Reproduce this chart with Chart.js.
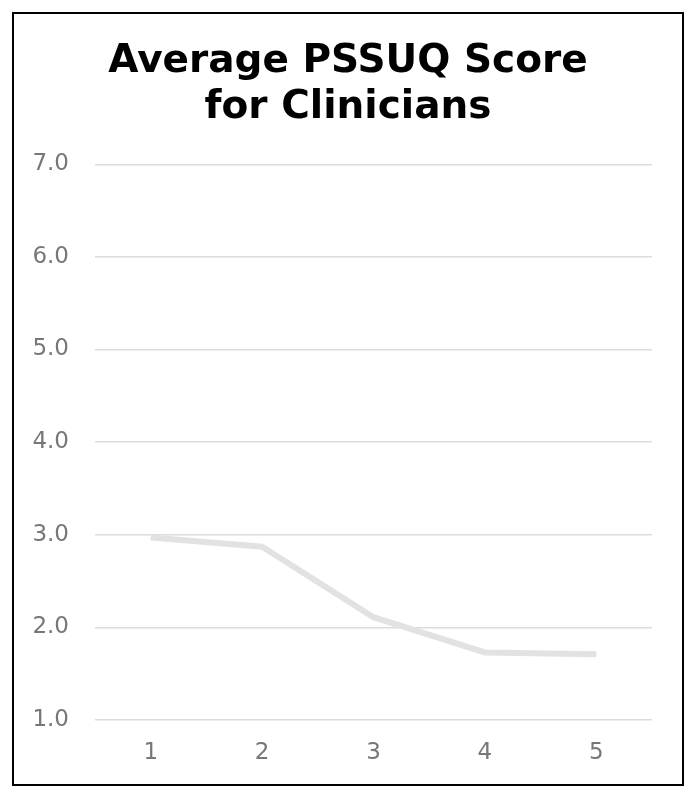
<!DOCTYPE html>
<html>
<head>
<meta charset="utf-8">
<script src="https://cdn.jsdelivr.net/npm/chart.js@4/dist/chart.umd.min.js"></script>
<style>
  html, body { margin: 0; padding: 0; background: #fff; }
  #frame { position: absolute; left: 12px; top: 12px; width: 668px; height: 770px; border: 2px solid #000; }
  #c { display: block; }
</style>
</head>
<body>
<div id="frame"><canvas id="c" width="668" height="770"></canvas></div>
<script>
const titleLines = ["Average PSSUQ Score", "for Clinicians"];
const categories = ["1", "2", "3", "4", "5"];
const scores = [2.97, 2.87, 2.11, 1.73, 1.71];
const yMin = 1, yMax = 7, yStep = 1;

new Chart(document.getElementById('c'), {
  type: 'line',
  data: {
    labels: categories,
    datasets: [{
      data: scores,
      borderColor: '#e2e2e2',
      borderWidth: 6,
      pointRadius: 0,
      tension: 0,
      fill: false
    }]
  },
  options: {
    responsive: false,
    animation: false,
    layout: { padding: 0 },
    plugins: {
      legend: { display: false },
      tooltip: { enabled: false },
      title: {
        display: true,
        text: titleLines,
        color: '#000',
        font: { family: 'DejaVu Sans', size: 39, weight: 'bold', lineHeight: 1.17 },
        padding: { top: 25, bottom: 34 }
      }
    },
    scales: {
      x: {
        offset: true,
        grid: { display: false, drawTicks: false },
        border: { display: false },
        ticks: { color: '#777', font: { family: 'DejaVu Sans', size: 23 }, padding: 19 },
        afterFit: s => { s.height = 64; }
      },
      y: {
        min: yMin, max: yMax,
        grid: { color: '#dcdcdc', lineWidth: 1.5, drawTicks: false },
        border: { display: false },
        ticks: { stepSize: yStep, color: '#777', font: { family: 'DejaVu Sans', size: 23 }, padding: 26,
                 callback: v => Number(v).toFixed(1) },
        afterFit: s => { s.width = 81; }
      },
      yRightSpace: {
        position: 'right',
        min: yMin, max: yMax,
        grid: { display: false, drawTicks: false },
        border: { display: false },
        ticks: { display: false },
        afterFit: s => { s.width = 30; }
      }
    }
  }
});
</script>
</body>
</html>
